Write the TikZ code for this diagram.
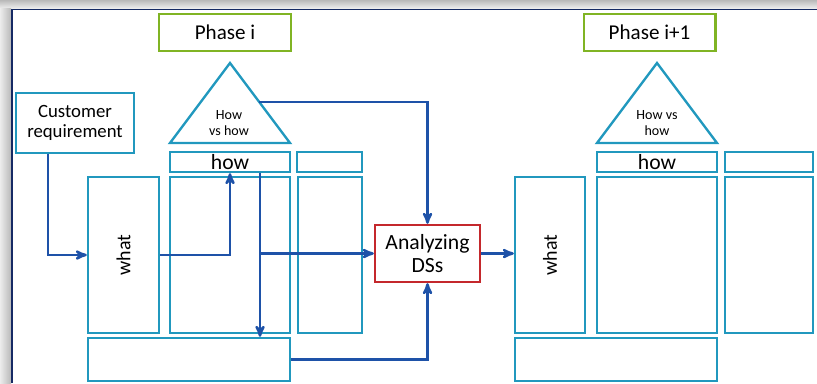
\documentclass[tikz,border=0pt]{standalone}
\usepackage{fontspec}
\setmainfont{Carlito}
\usepackage{graphicx}
\usepackage{tikz}
\usetikzlibrary{arrows}

\definecolor{boxblue}{RGB}{33,152,190}
\definecolor{phasegreen}{RGB}{128,180,36}
\definecolor{dsred}{RGB}{196,40,44}
\definecolor{arrowblue}{RGB}{30,82,168}
\definecolor{framenavy}{RGB}{22,42,100}

\begin{document}
\begin{tikzpicture}[x=0.03cm, y=-0.03cm]
		\tikzstyle{phase} = [rectangle, draw=phasegreen, line width=2pt, minimum width=3.95cm, minimum height=1.1cm, inner sep=0pt, font=\fontsize{18}{21}\selectfont]
		
		\tikzstyle{cell} = [rectangle, draw=boxblue, line width=2pt, inner sep=0pt, font=\fontsize{18.5}{21}\selectfont]
		
		\tikzstyle{analyze} = [rectangle, draw=dsred, line width=2pt, minimum width=3.15cm, minimum height=1.71cm, inner sep=0pt, text centered, align=center, font=\fontsize{18.5}{19}\selectfont]
		
		\tikzstyle{tri} = [draw=boxblue, line width=2pt, line join=miter]
		
		\tikzstyle{arrow} = [->,>= stealth', draw=arrowblue, line width=2.1pt]
		
		\useasboundingbox (0,0) rectangle (817,383);
		
		% Frame of the slide
		\shade [top color=gray!55, bottom color=gray!15] (0,0) rectangle (817,8);
		\shade [left color=gray!15, right color=gray!55] (0,8) rectangle (11,383);
		\draw [framenavy, line width=1.3pt] (12,383) -- (12,9.5) -- (817,9.5);
		
		% Phase titles
		\node (phasei) [phase] at (225,32.5) {Phase i};
		\node (phasej) [phase] at (649.5,32.5) {Phase i+1};
		
		% Roofs of the houses
		\draw [tri] (230,63) -- (290,143) -- (170,143) -- cycle;
		\draw [tri] (657,63) -- (717,143) -- (597,143) -- cycle;
		\node (roofi) [align=center, font=\fontsize{12}{13.5}\selectfont] at (229,123) {How\\vs how};
		\node (roofj) [align=center, font=\fontsize{12}{13.5}\selectfont] at (657,123) {How vs\\how};
		\coordinate (roofiside) at (259,102);
		
		% Customer requirement
		\node (custreq) [cell, minimum width=3.54cm, minimum height=1.8cm, align=center, font=\fontsize{16}{17}\selectfont] at (75,123) {Customer\\requirement};
		
		% House of phase i
		\node (howi) [cell, minimum width=3.6cm, minimum height=0.6cm] at (230,162) {how};
		\node (howxi) [cell, minimum width=1.95cm, minimum height=0.6cm] at (329.5,162) {};
		\node (whati) [cell, minimum width=2.13cm, minimum height=4.68cm, font=\fontsize{17}{19}\selectfont] at (123.5,255) {\rotatebox{90}{what}};
		\node (midi) [cell, minimum width=3.6cm, minimum height=4.68cm] at (230,255) {};
		\node (rti) [cell, minimum width=1.92cm, minimum height=4.68cm] at (330,255) {};
		\node (boti) [cell, minimum width=6.06cm, minimum height=1.29cm] at (189,359.5) {};
		
		% Analyzing
		\node (ads) [analyze] at (427.5,253.5) {Analyzing\\DSs};
		
		% House of phase i+1
		\node (howj) [cell, minimum width=3.6cm, minimum height=0.6cm] at (657,162) {how};
		\node (howxj) [cell, minimum width=2.64cm, minimum height=0.6cm] at (769,162) {};
		\node (whatj) [cell, minimum width=2.1cm, minimum height=4.68cm, font=\fontsize{17}{19}\selectfont] at (550,255) {\rotatebox{90}{what}};
		\node (midj) [cell, minimum width=3.6cm, minimum height=4.68cm] at (657,255) {};
		\node (rtj) [cell, minimum width=2.64cm, minimum height=4.68cm] at (769,255) {};
		\node (botj) [cell, minimum width=6.06cm, minimum height=1.29cm] at (616,359.5) {};
		
		% Arrows
		\draw [arrow] ([xshift=-0.81cm]custreq.south) |- (whati.west);
		\draw [arrow] (whati.east) -| (howi.south);
		\draw [arrow] ([xshift=0.9cm]howi.south) -- ([xshift=0.9cm]howi.south |- boti.north);
		\draw [arrow] ([xshift=0.9cm]howi.south |- ads.west) -- (ads.west);
		\draw [arrow] (roofiside) -| (ads.north);
		\draw [arrow] (boti.east) -| (ads.south);
		\draw [arrow] (ads.east) -- (ads.east -| whatj.west);
		
\end{tikzpicture}
\end{document}
